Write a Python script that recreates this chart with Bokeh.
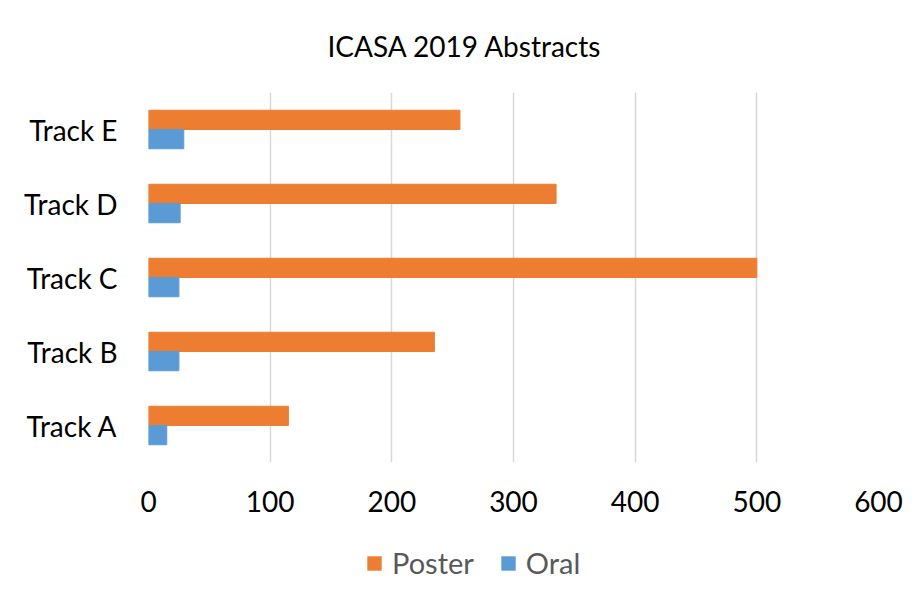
from bokeh.plotting import figure
from bokeh.layouts import column
from bokeh.models import FactorRange, Range1d, FixedTicker, Legend, LegendItem
from bokeh.transform import dodge
from bokeh.embed import file_html
from bokeh.resources import INLINE

tracks = ["Track A", "Track B", "Track C", "Track D", "Track E"]
poster = [115, 235, 500, 335, 256]
oral = [15, 25, 25, 26, 29]
x_ticks = [0, 100, 200, 300, 400, 500, 600]
series_names = ["Poster", "Oral"]
colors = ["#ED7D31", "#5B9BD5"]

FONT = "Lato"

p = figure(
    y_range=FactorRange(factors=tracks),
    x_range=Range1d(0, 600),
    frame_width=730, frame_height=370,
    min_border_left=148, min_border_right=41,
    min_border_top=92, min_border_bottom=68,
    output_backend="svg", toolbar_location=None,
    title="ICASA 2019 Abstracts",
)
p.outline_line_color = None
p.background_fill_color = "white"
p.border_fill_color = "white"

p.title.align = "left"
p.title.offset = 179
p.title.vertical_align = "top"
p.title.standoff = 55
p.title.text_font = FONT
p.title.text_font_size = "28px"
p.title.text_font_style = "normal"
p.title.text_color = "#000000"

p.hbar(y=dodge("track", 0.13, range=p.y_range), right="poster", height=0.26,
       source=dict(track=tracks, poster=poster), color=colors[0])
p.hbar(y=dodge("track", -0.13, range=p.y_range), right="oral", height=0.26,
       source=dict(track=tracks, oral=oral), color=colors[1])

# axes
p.xaxis.ticker = FixedTicker(ticks=x_ticks)
p.xaxis.axis_line_color = None
p.xaxis.major_tick_line_color = None
p.xaxis.minor_tick_line_color = None
p.xaxis.major_tick_out = 0
p.xaxis.major_label_standoff = 28
p.xaxis.major_label_text_font = FONT
p.xaxis.major_label_text_font_size = "28px"
p.xaxis.major_label_text_color = "#000000"

p.yaxis.axis_line_color = None
p.yaxis.major_tick_line_color = None
p.yaxis.minor_tick_line_color = None
p.yaxis.major_tick_out = 0
p.yaxis.major_label_standoff = 31
p.yaxis.major_label_text_font = FONT
p.yaxis.major_label_text_font_size = "28px"
p.yaxis.major_label_text_color = "#000000"

p.xgrid.grid_line_color = "#D9D9D9"
p.xgrid.grid_line_width = 1.5
p.ygrid.grid_line_color = None

# legend strip below the chart (its frame is aligned with the main frame)
lf = figure(width=919, height=68, x_range=Range1d(0, 1), y_range=Range1d(0, 1),
            min_border=0, output_backend="svg", toolbar_location=None)
lf.axis.visible = False
lf.grid.visible = False
lf.outline_line_color = None
lf.background_fill_color = "white"
lf.border_fill_color = "white"
# swatch proxies, kept outside the visible range
sw = [lf.rect(x=[-5], y=[-5], width=0.1, height=0.1, color=c, line_color=None)
      for c in colors]
lg = Legend(items=[LegendItem(label=n, renderers=[r]) for n, r in zip(series_names, sw)],
            orientation="horizontal", location=(217, 18))
lg.padding = 0
lg.margin = 0
lg.spacing = 25
lg.glyph_width = 18
lg.glyph_height = 18
lg.label_standoff = 9
lg.border_line_color = None
lg.background_fill_alpha = 0
lg.label_text_font = FONT
lg.label_text_font_size = "29px"
lg.label_text_color = "#595959"
lf.add_layout(lg, "center")

layout = column(p, lf, spacing=0)
open("out.html", "w").write(file_html(layout, INLINE))
